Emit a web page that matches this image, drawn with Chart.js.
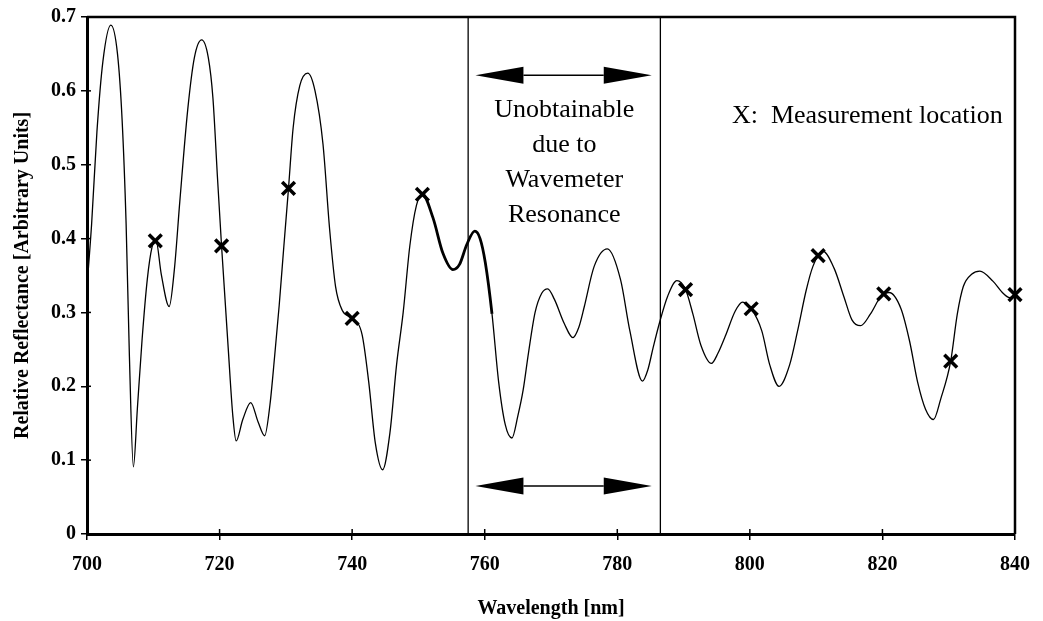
<!DOCTYPE html>
<html>
<head>
<meta charset="utf-8">
<script src="https://cdn.jsdelivr.net/npm/chart.js@4/dist/chart.umd.min.js"></script>
<style>
  html, body { margin: 0; padding: 0; background: #fff; }
</style>
</head>
<body>
<canvas id="reflectanceChart" width="1043" height="621"></canvas>
<script>
// Scanned reflectance curve: wavelength [nm] and relative reflectance
const wavelength = [
  700.0, 700.7, 701.5, 702.4, 703.6, 704.6, 705.3, 705.9, 706.4, 707.0,
  707.6, 708.3, 709.1, 709.8, 710.4, 711.2, 712.4, 713.2, 714.0, 715.2,
  716.2, 717.3, 718.3, 719.0, 719.7, 720.3, 721.3, 722.0, 722.5, 723.5,
  724.7, 725.8, 726.8, 727.6, 728.3, 729.0, 729.7, 730.4, 731.1, 732.1,
  733.3, 734.4, 735.6, 736.6, 737.5, 738.5, 740.0, 741.5, 742.5, 743.5,
  744.6, 745.7, 746.7, 747.7, 748.7, 749.7, 750.6, 752.2, 753.7, 755.2,
  756.2, 757.3, 758.5, 759.3, 760.1, 761.1, 762.1, 763.1, 764.1, 765.0,
  765.8, 766.6, 767.6, 768.6, 769.5, 770.5, 772.0, 773.3, 774.2, 775.0,
  776.5, 778.5, 780.5, 781.9, 783.8, 784.6, 785.4, 786.4, 787.6, 789.0,
  790.3, 791.4, 792.6, 794.2, 795.2, 796.3, 797.8, 798.9, 800.2, 801.8,
  803.0, 804.4, 806.0, 807.2, 808.5, 809.5, 811.0, 812.7, 814.2, 815.4,
  816.7, 818.2, 819.8, 821.0, 822.8, 824.1, 825.3, 826.5, 827.7, 828.8,
  830.3, 831.3, 832.2, 833.5, 834.7, 836.7, 838.2, 839.2, 840.0
];
const reflectance = [
  0.335, 0.420, 0.545, 0.640, 0.689, 0.650, 0.560, 0.420, 0.240, 0.091,
  0.170, 0.262, 0.345, 0.388, 0.398, 0.352, 0.308, 0.360, 0.450, 0.575,
  0.645, 0.669, 0.645, 0.590, 0.480, 0.390, 0.252, 0.160, 0.126, 0.155,
  0.178, 0.152, 0.133, 0.175, 0.240, 0.310, 0.390, 0.468, 0.550, 0.607,
  0.624, 0.600, 0.528, 0.413, 0.335, 0.303, 0.292, 0.270, 0.206, 0.123,
  0.087, 0.137, 0.229, 0.300, 0.390, 0.445, 0.460, 0.428, 0.380, 0.358,
  0.365, 0.392, 0.410, 0.400, 0.367, 0.298, 0.206, 0.148, 0.130, 0.160,
  0.195, 0.245, 0.300, 0.326, 0.332, 0.318, 0.285, 0.266, 0.280, 0.307,
  0.362, 0.386, 0.344, 0.275, 0.207, 0.222, 0.252, 0.287, 0.322, 0.343,
  0.331, 0.298, 0.256, 0.231, 0.245, 0.268, 0.302, 0.314, 0.305, 0.275,
  0.229, 0.200, 0.229, 0.275, 0.330, 0.362, 0.383, 0.360, 0.321, 0.290,
  0.282, 0.298, 0.322, 0.327, 0.305, 0.261, 0.206, 0.169, 0.155, 0.183,
  0.234, 0.298, 0.335, 0.352, 0.356, 0.342, 0.326, 0.320, 0.324
];

// Measurement locations (drawn as X)
const measWavelength = [710.3, 720.3, 730.4, 740.0, 750.6, 790.3, 800.2, 810.3, 820.2, 830.3, 840.0];
const measReflectance = [0.397, 0.390, 0.468, 0.292, 0.460, 0.331, 0.305, 0.377, 0.325, 0.234, 0.324];

// Axis tick labels
const xTickLabels = ["700", "720", "740", "760", "780", "800", "820", "840"];
const yTickLabels = ["0", "0.1", "0.2", "0.3", "0.4", "0.5", "0.6", "0.7"];

// Region where the wavemeter resonates
const gapStart = 757.5;
const gapEnd = 786.5;
const arrowFrom = 758.6;
const arrowTo = 785.2;
const arrowLevels = [0.621, 0.065];
const gapText = ["Unobtainable", "due to", "Wavemeter", "Resonance"];
const gapTextTop = 0.574;
const legendText = "X:  Measurement location";
const legendAt = [797.3, 0.566];

const serif = '"Liberation Serif", "Times New Roman", serif';

// draws a double headed arrow with solid heads
function drawArrow(ctx, x1, x2, yc) {
  const head = 48, half = 8.5;
  ctx.lineWidth = 1.5;
  ctx.beginPath();
  ctx.moveTo(x1 + head, yc);
  ctx.lineTo(x2 - head, yc);
  ctx.stroke();
  ctx.beginPath();
  ctx.moveTo(x1, yc);
  ctx.lineTo(x1 + head, yc - half);
  ctx.lineTo(x1 + head, yc + half);
  ctx.closePath();
  ctx.fill();
  ctx.beginPath();
  ctx.moveTo(x2, yc);
  ctx.lineTo(x2 - head, yc - half);
  ctx.lineTo(x2 - head, yc + half);
  ctx.closePath();
  ctx.fill();
}

// frame, inner tick stubs, resonance region and text
const regionPlugin = {
  id: "regionPlugin",
  beforeDatasetsDraw(chart) {
    const { ctx, chartArea: a, scales: { x, y } } = chart;
    ctx.save();
    ctx.strokeStyle = "#000";
    ctx.fillStyle = "#000";

    // top and right frame
    ctx.lineWidth = 2.5;
    ctx.beginPath();
    ctx.moveTo(a.left, a.top);
    ctx.lineTo(a.right, a.top);
    ctx.lineTo(a.right, a.bottom);
    ctx.stroke();

    // ticks cross the axes
    ctx.lineWidth = 1.5;
    x.ticks.forEach((t) => {
      const px = x.getPixelForValue(t.value);
      ctx.beginPath();
      ctx.moveTo(px, a.bottom);
      ctx.lineTo(px, a.bottom - 5);
      ctx.stroke();
    });
    y.ticks.forEach((t) => {
      const py = y.getPixelForValue(t.value);
      ctx.beginPath();
      ctx.moveTo(a.left, py);
      ctx.lineTo(a.left + 4, py);
      ctx.stroke();
    });

    // region borders
    ctx.lineWidth = 1.3;
    [gapStart, gapEnd].forEach((v) => {
      const px = x.getPixelForValue(v);
      ctx.beginPath();
      ctx.moveTo(px, a.top);
      ctx.lineTo(px, a.bottom);
      ctx.stroke();
    });

    // arrows
    arrowLevels.forEach((lv) => {
      drawArrow(ctx, x.getPixelForValue(arrowFrom), x.getPixelForValue(arrowTo), y.getPixelForValue(lv));
    });

    // region text
    ctx.font = "26px " + serif;
    ctx.textAlign = "center";
    ctx.textBaseline = "middle";
    const cx = x.getPixelForValue((gapStart + gapEnd) / 2);
    const ty = y.getPixelForValue(gapTextTop);
    gapText.forEach((line, i) => {
      ctx.fillText(line, cx, ty + i * 35);
    });

    // legend text
    ctx.textAlign = "left";
    ctx.fillText(legendText, x.getPixelForValue(legendAt[0]), y.getPixelForValue(legendAt[1]));
    ctx.restore();
  },
};

const curvePoints = wavelength.map((w, i) => ({ x: w, y: reflectance[i] }));
const measPoints = measWavelength.map((w, i) => ({ x: w, y: measReflectance[i] }));

new Chart("reflectanceChart", {
  type: "line",
  data: {
    datasets: [
      {
        data: curvePoints,
        borderColor: "#000",
        borderWidth: 1.3,
        pointRadius: 0,
        fill: false,
        cubicInterpolationMode: "monotone",
        // the part around 750-761 nm is traced heavier
        segment: {
          borderWidth: (ctx) =>
            ctx.p0.parsed.x >= 750.6 && ctx.p1.parsed.x <= 761.1 ? 2.8 : undefined,
        },
      },
      {
        data: measPoints,
        showLine: false,
        pointStyle: "crossRot",
        pointRadius: 9,
        pointBorderWidth: 3.5,
        borderColor: "#000",
        backgroundColor: "#000",
        clip: false,
      },
    ],
  },
  options: {
    responsive: false,
    animation: false,
    layout: { padding: { top: 17, right: 15, left: 0, bottom: 0 } },
    plugins: {
      legend: { display: false },
      tooltip: { enabled: false },
    },
    scales: {
      x: {
        type: "linear",
        min: 700,
        max: 840,
        afterFit: (s) => { s.height = 87; },
        ticks: {
          stepSize: 20,
          color: "#000",
          padding: 13,
          maxRotation: 0,
          font: { family: serif, size: 20, weight: "bold" },
          callback: (v) => xTickLabels[Math.round((v - 700) / 20)],
        },
        grid: { drawOnChartArea: false, drawTicks: true, tickLength: 6, color: "#000", lineWidth: 1.5 },
        border: { color: "#000", width: 3 },
        title: {
          display: true,
          text: "Wavelength [nm]",
          color: "#000",
          font: { family: serif, size: 20, weight: "bold" },
          padding: { top: 0, bottom: 0 },
        },
      },
      y: {
        min: 0,
        max: 0.7,
        afterFit: (s) => { s.width = 87; },
        ticks: {
          stepSize: 0.1,
          color: "#000",
          padding: 5,
          font: { family: serif, size: 20, weight: "bold" },
          callback: (v) => yTickLabels[Math.round(v * 10)],
        },
        grid: { drawOnChartArea: false, drawTicks: true, tickLength: 6, color: "#000", lineWidth: 1.5 },
        border: { color: "#000", width: 3 },
        title: {
          display: true,
          text: "Relative Reflectance [Arbitrary Units]",
          color: "#000",
          font: { family: serif, size: 20, weight: "bold" },
          padding: { top: 11, bottom: 0 },
        },
      },
    },
  },
  plugins: [regionPlugin],
});
</script>
</body>
</html>
